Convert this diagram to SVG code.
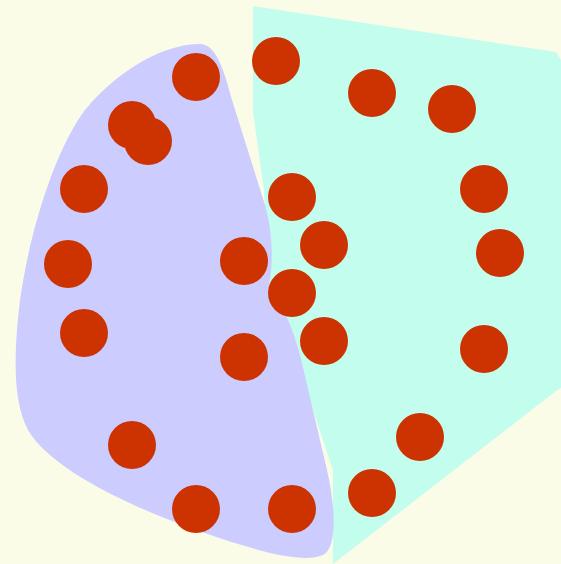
<svg xmlns="http://www.w3.org/2000/svg" width="561" height="564" viewBox="0 0 561 564">
<style>
.dot{fill:#cc3300}
</style>
<rect width="561" height="564" fill="#fbfce8"/>
<path id="cyan" d="M253 6 L556 52 L561 60 L561 388 L556 391 L333 564 L333 470 L303 380 L270 290 L264 190 L253 112 Z" fill="#c2fdee"/>
<path id="purple" d="M200 44 C216 44 224 70 232 100 L265 205 C272 230 274 260 269 285 C280 300 292 325 300 355 L327 470 C334 500 338 540 326 553 C316 561 292 558 270 553 C200 535 60 485 28 430 C12 400 14 350 20 300 C30 230 55 150 85 110 C120 68 165 44 200 44 Z" fill="#ccccff"/>
<g id="dots">
<circle class="dot" cx="196" cy="77" r="24"/>
<circle class="dot" cx="276" cy="61" r="24"/>
<circle class="dot" cx="372" cy="93" r="24"/>
<circle class="dot" cx="452" cy="109" r="24"/>
<circle class="dot" cx="132" cy="125" r="24"/>
<circle class="dot" cx="148" cy="141" r="24"/>
<circle class="dot" cx="84" cy="189" r="24"/>
<circle class="dot" cx="292" cy="197" r="24"/>
<circle class="dot" cx="484" cy="189" r="24"/>
<circle class="dot" cx="324" cy="245" r="24"/>
<circle class="dot" cx="68" cy="264" r="24"/>
<circle class="dot" cx="244" cy="261" r="24"/>
<circle class="dot" cx="500" cy="253" r="24"/>
<circle class="dot" cx="292" cy="293" r="24"/>
<circle class="dot" cx="84" cy="333" r="24"/>
<circle class="dot" cx="324" cy="341" r="24"/>
<circle class="dot" cx="244" cy="357" r="24"/>
<circle class="dot" cx="484" cy="349" r="24"/>
<circle class="dot" cx="132" cy="445" r="24"/>
<circle class="dot" cx="420" cy="437" r="24"/>
<circle class="dot" cx="196" cy="509" r="24"/>
<circle class="dot" cx="292" cy="509" r="24"/>
<circle class="dot" cx="372" cy="493" r="24"/>
</g>
</svg>
